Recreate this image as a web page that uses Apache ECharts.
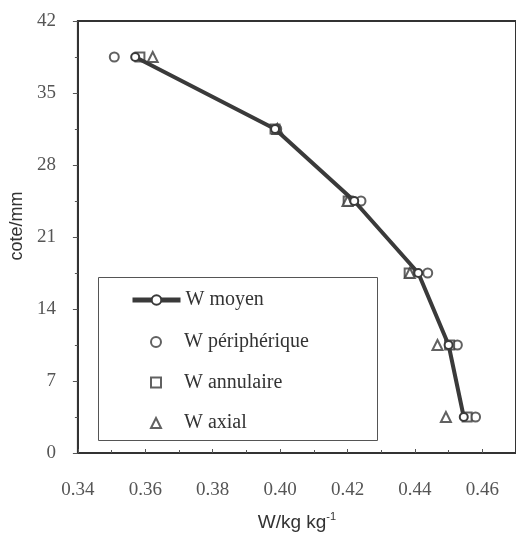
<!DOCTYPE html>
<html>
<head>
<meta charset="utf-8">
<script src="https://cdn.jsdelivr.net/npm/echarts@6/dist/echarts.min.js"></script>
<style>html,body{margin:0;padding:0;background:#fff}#c{width:516px;height:543px}</style>
</head>
<body>
<div id="c"></div>
<script>
// cote levels (mm)
var cote = [38.5, 31.5, 24.5, 17.5, 10.5, 3.5];
// W values (kg/kg)
var wMoyen = [0.3570, 0.3985, 0.4220, 0.4410, 0.4500, 0.4545];
var wPeripherique = [0.3508, 0.3990, 0.4240, 0.4438, 0.4526, 0.4580];
var wAnnulaire = [0.3584, 0.3985, 0.4202, 0.4383, 0.4503, 0.4555];
var wAxial = [0.3622, 0.3992, 0.4200, 0.4385, 0.4467, 0.4492];
var seriesNames = ['W moyen', 'W périphérique', 'W annulaire', 'W axial'];
var yTicks = [0, 7, 14, 21, 28, 35, 42];
var xTicks = [0.34, 0.36, 0.38, 0.40, 0.42, 0.44, 0.46];

function pairs(xs) { return xs.map(function (v, i) { return [v, cote[i]]; }); }

var dark = '#3a3a3a';
var legendText = { fontFamily: 'Liberation Serif', fontSize: 20, lineHeight: 20, color: '#333' };
var chart = echarts.init(document.getElementById('c'));
chart.setOption({
  animation: false,
  backgroundColor: '#fff',
  grid: { left: 77, top: 21, bottom: 90, right: -5, show: true, borderColor: '#333', borderWidth: 2 },
  graphic: [{
    type: 'rect', left: 98, top: 277, z: 1,
    shape: { width: 279, height: 163 },
    style: { fill: '#fff', stroke: '#555', lineWidth: 1 }
  }],
  xAxis: {
    type: 'value', min: 0.34, max: 0.47, interval: 0.02,
    name: 'W/kg kg{s|-1}', nameLocation: 'middle', nameGap: 58,
    nameTextStyle: { fontFamily: 'Liberation Sans', fontSize: 19, color: '#333', rich: { s: { fontSize: 11, verticalAlign: 'top', padding: [0, 0, 12, 0], fontFamily: 'Liberation Sans', color: '#333' } } },
    axisLine: { show: true, lineStyle: { color: '#333', width: 2 } },
    axisTick: { show: true, inside: true, length: 4, lineStyle: { color: '#555' } },
    minorTick: { show: true, splitNumber: 2, length: 3, lineStyle: { color: '#555' } },
    splitLine: { show: false },
    axisLabel: {
      margin: 28, fontFamily: 'Liberation Serif', fontSize: 19, color: '#555', showMaxLabel: false,
      formatter: function (v) {
        for (var i = 0; i < xTicks.length; i++) if (Math.abs(xTicks[i] - v) < 1e-6) return xTicks[i].toFixed(2);
        return '';
      }
    }
  },
  yAxis: {
    type: 'value', min: 0, max: 42, interval: 7,
    name: 'cote/mm', nameLocation: 'middle', nameGap: 46,
    nameTextStyle: { fontFamily: 'Liberation Sans', fontSize: 18, color: '#333', padding: [0, 0, 0, 22] },
    axisLine: { show: true, lineStyle: { color: '#333', width: 2 } },
    axisTick: { show: true, inside: false, length: 5, lineStyle: { color: '#555' } },
    minorTick: { show: true, splitNumber: 2, length: 3, lineStyle: { color: '#555' } },
    splitLine: { show: false },
    axisLabel: {
      margin: 22, fontFamily: 'Liberation Serif', fontSize: 19, color: '#555',
      formatter: function (v) { return yTicks.indexOf(v) >= 0 ? String(v) : ''; }
    }
  },
  legend: [{
    orient: 'vertical', left: 130, top: 290, padding: 0, z: 5,
    itemWidth: 48, itemHeight: 12,
    lineStyle: { width: 5, color: dark },
    textStyle: legendText,
    data: [seriesNames[0]]
  }, {
    orient: 'vertical', left: 150, top: 332, padding: 0, z: 5,
    itemGap: 20.5, itemWidth: 10, itemHeight: 10,
    itemStyle: { color: dark, borderColor: dark, borderWidth: 2.5 },
    textStyle: Object.assign({ padding: [0, 0, 0, 18] }, legendText),
    data: seriesNames.slice(1)
  }],
  series: [
    {
      name: seriesNames[0], type: 'line', data: pairs(wMoyen), z: 3,
      symbol: 'emptyCircle', symbolSize: 8,
      lineStyle: { color: dark, width: 4 },
      itemStyle: { color: dark, borderColor: dark, borderWidth: 2 }
    },
    {
      name: seriesNames[1], type: 'scatter', data: pairs(wPeripherique), z: 2,
      symbol: 'emptyCircle', symbolSize: 9,
      itemStyle: { color: dark, borderColor: dark, borderWidth: 2.5 }
    },
    {
      name: seriesNames[2], type: 'scatter', data: pairs(wAnnulaire), z: 2,
      symbol: 'emptyRect', symbolSize: 9,
      itemStyle: { color: dark, borderColor: dark, borderWidth: 2.5 }
    },
    {
      name: seriesNames[3], type: 'scatter', data: pairs(wAxial), z: 2,
      symbol: 'emptyTriangle', symbolSize: 10,
      itemStyle: { color: dark, borderColor: dark, borderWidth: 2.5 }
    }
  ]
});
</script>
</body>
</html>
